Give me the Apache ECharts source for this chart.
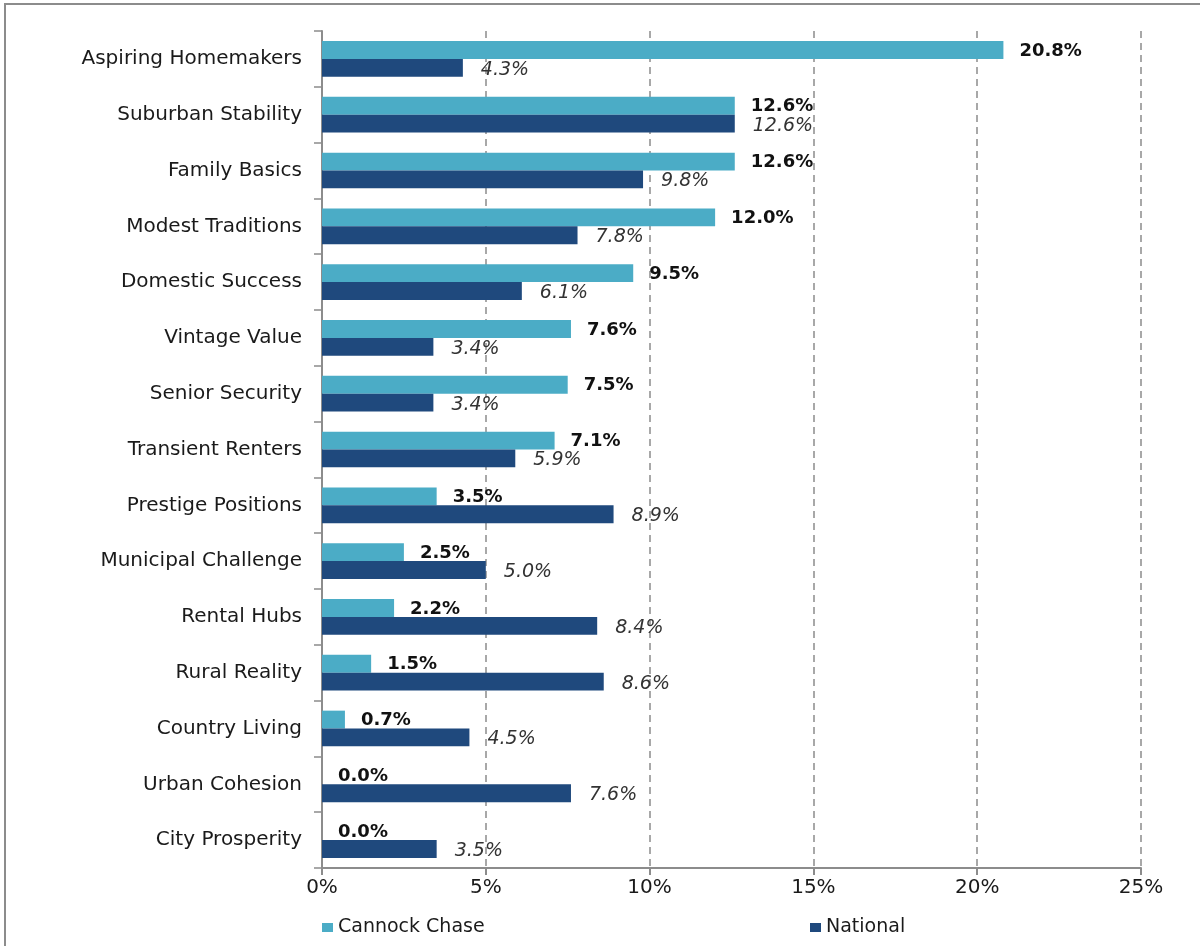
<!DOCTYPE html>
<html>
<head>
<meta charset="utf-8">
<title>Cannock Chase vs National</title>
<script src="https://cdn.jsdelivr.net/npm/echarts@6/dist/echarts.min.js"></script>
<style>
  html, body { margin: 0; padding: 0; background: #fff; }
  #chart { width: 1200px; height: 946px; }
</style>
</head>
<body>
<div id="chart"></div>
<script>
// categories, top to bottom
var categories = [
  "Aspiring Homemakers", "Suburban Stability", "Family Basics", "Modest Traditions",
  "Domestic Success", "Vintage Value", "Senior Security", "Transient Renters",
  "Prestige Positions", "Municipal Challenge", "Rental Hubs", "Rural Reality",
  "Country Living", "Urban Cohesion", "City Prosperity"
];
var cannockChase = [20.8, 12.6, 12.6, 12.0, 9.5, 7.6, 7.5, 7.1, 3.5, 2.5, 2.2, 1.5, 0.7, 0.0, 0.0];
var national = [4.3, 12.6, 9.8, 7.8, 6.1, 3.4, 3.4, 5.9, 8.9, 5.0, 8.4, 8.6, 4.5, 7.6, 3.5];
var seriesNames = ["Cannock Chase", "National"];

var FONT = "DejaVu Sans";
var chart = echarts.init(document.getElementById("chart"));

function pct(p) {
  return p.value.toFixed(1) + "%";
}

var option = {
  backgroundColor: "#fff",
  animation: false,
  // outer frame
  graphic: [{
    type: "rect",
    shape: { x: 5, y: 4, width: 1300, height: 1100 },
    style: { fill: null, stroke: "#8c8c8c", lineWidth: 2 },
    silent: true
  }],
  grid: { left: 322, right: 59, top: 31, bottom: 78 },
  legend: [
    {
      data: [seriesNames[0]],
      left: 317, top: 913,
      icon: "rect", itemWidth: 11, itemHeight: 9, itemGap: 6,
      textStyle: { fontFamily: FONT, fontSize: 19, color: "#1a1a1a" }
    },
    {
      data: [seriesNames[1]],
      left: 805, top: 913,
      icon: "rect", itemWidth: 11, itemHeight: 9, itemGap: 6,
      textStyle: { fontFamily: FONT, fontSize: 19, color: "#1a1a1a" }
    }
  ],
  xAxis: {
    type: "value",
    min: 0, max: 25, interval: 5,
    axisLine: { show: true, lineStyle: { color: "#8c8c8c", width: 2 } },
    axisTick: { show: true, length: 7, lineStyle: { color: "#8c8c8c", width: 2 } },
    axisLabel: {
      formatter: "{value}%", margin: 10,
      fontFamily: FONT, fontSize: 20, color: "#1a1a1a"
    },
    splitLine: {
      show: true,
      lineStyle: { color: "#8c8c8c", width: 1.5, type: [7, 5] }
    }
  },
  yAxis: {
    type: "category",
    inverse: true,
    data: categories,
    axisLine: { show: true, lineStyle: { color: "#8c8c8c", width: 2 } },
    axisTick: { show: true, length: 8, lineStyle: { color: "#8c8c8c", width: 1.5 } },
    axisLabel: { margin: 20, fontFamily: FONT, fontSize: 20, color: "#1a1a1a" }
  },
  series: [
    {
      name: seriesNames[0],
      type: "bar",
      data: cannockChase,
      barGap: "0%",
      barCategoryGap: "36%",
      itemStyle: { color: "#4bacc6" },
      label: {
        show: true, position: "right", distance: 16, offset: [0, 1],
        formatter: pct,
        fontFamily: FONT, fontSize: 18, fontWeight: "bold", color: "#111"
      }
    },
    {
      name: seriesNames[1],
      type: "bar",
      data: national,
      itemStyle: { color: "#1f497d" },
      label: {
        show: true, position: "right", distance: 18, offset: [0, 2],
        formatter: pct,
        fontFamily: FONT, fontSize: 19, fontStyle: "italic", color: "#333"
      }
    }
  ]
};

chart.setOption(option);
</script>
</body>
</html>
